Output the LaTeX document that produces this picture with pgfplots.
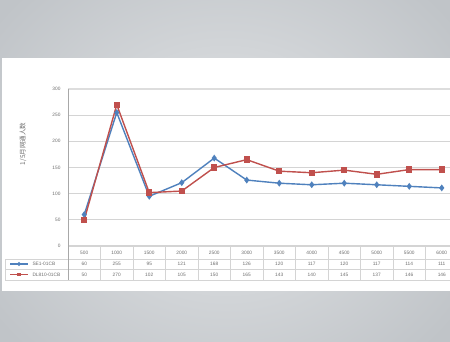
\documentclass[border=0pt]{standalone}
\usepackage{pgfplots}
\usepackage{pgfplotstable}
\pgfplotsset{compat=1.18}
\usepackage{fontspec}
\setmainfont{Liberation Sans}
\newfontfamily\cjk{Noto Sans CJK SC}

\definecolor{sblue}{HTML}{4F81BD}
\definecolor{sred}{HTML}{C0504D}
\definecolor{gridc}{HTML}{D4D4D4}
\definecolor{txt}{HTML}{6E6E6E}
\definecolor{bgin}{HTML}{E3E5E7}
\definecolor{bgout}{HTML}{C0C4C8}

\pgfplotstableread{
idx cat  blue red
0   500  60   50
1   1000 255  270
2   1500 95   102
3   2000 121  105
4   2500 168  150
5   3000 126  165
6   3500 120  143
7   4000 117  140
8   4500 120  145
9   5000 117  137
10  5500 114  146
11  6000 111  146
}\datatbl

\newcommand{\tinyfont}{\fontsize{4.8}{5.5}\selectfont}

\begin{document}
\begin{tikzpicture}
\path[use as bounding box] (0pt,0pt) rectangle (450pt,341pt);
\clip (0pt,0pt) rectangle (450pt,341pt);
\begin{scope}[x=1pt,y=1pt]
% backdrop and white panel
\shade[inner color=bgin, outer color=bgout] (-60,-80) rectangle (510,421);
\fill[white] (2,50) rectangle (452,283);
\end{scope}

\begin{axis}[
  at={(68pt,95pt)}, anchor=south west,
  scale only axis, width=390pt, height=157pt,
  xmin=-0.5, xmax=11.5, ymin=0, ymax=300,
  ytick={0,50,...,300},
  xtick=\empty,
  ymajorgrids,
  grid style={gridc, line width=1.1pt},
  axis line style={draw=none},
  major tick length=0pt,
  yticklabel style={font=\tinyfont, text=txt, xshift=-4pt},
  /pgf/number format/assume math mode=true,
  clip=false,
]
\draw[gridc!80, line width=2.4pt] (axis cs:-0.5,300) -- (axis cs:11.5,300);
\addplot[sblue, line width=1.4pt, mark=diamond*, mark size=2.3pt]
  table[x=idx, y=blue] {\datatbl};
\addplot[sred, line width=1.4pt, mark=square*, mark size=2.5pt]
  table[x=idx, y=red] {\datatbl};
\end{axis}

\begin{scope}[x=1pt,y=1pt]
% y-axis title
\node[rotate=90, text=txt, font=\cjk\fontsize{6.5}{7.5}\selectfont] at (23,197) {1/5月网通人数};

% data table under the plot
\begin{scope}[draw=gridc, line width=0.7pt]
  \draw (68,82) -- (460,82);
  \draw (5,82) -- (68,82);
  \draw (5,72) -- (460,72);
  \draw (5,61) -- (460,61);
  \draw (5,82) -- (5,61);
  \foreach \k in {1,...,12} {\draw (68+32.5*\k,95) -- (68+32.5*\k,61);}
\end{scope}
\draw[txt!60, line width=0.7pt] (68,61) -- (68,252);
\foreach \i in {0,...,11} {
  \pgfplotstablegetelem{\i}{cat}\of\datatbl
  \node[font=\tinyfont, text=txt] at (84.25+32.5*\i,88.5) {\pgfplotsretval};
  \pgfplotstablegetelem{\i}{blue}\of\datatbl
  \node[font=\tinyfont, text=txt] at (84.25+32.5*\i,77) {\pgfplotsretval};
  \pgfplotstablegetelem{\i}{red}\of\datatbl
  \node[font=\tinyfont, text=txt] at (84.25+32.5*\i,66.5) {\pgfplotsretval};
}
% series keys
\draw[sblue, line width=1.3pt] (10,77) -- (28,77);
\fill[sblue] (19,79.2) -- (21.2,77) -- (19,74.8) -- (16.8,77) -- cycle;
\node[font=\tinyfont, text=txt, anchor=west] at (29,77) {SE1-01CB};
\draw[sred, line width=1.3pt] (10,66.5) -- (28,66.5);
\fill[sred] (17.2,64.7) rectangle (20.8,68.3);
\node[font=\tinyfont, text=txt, anchor=west] at (29,66.5) {DL810-01CB};
\end{scope}
\end{tikzpicture}
\end{document}
